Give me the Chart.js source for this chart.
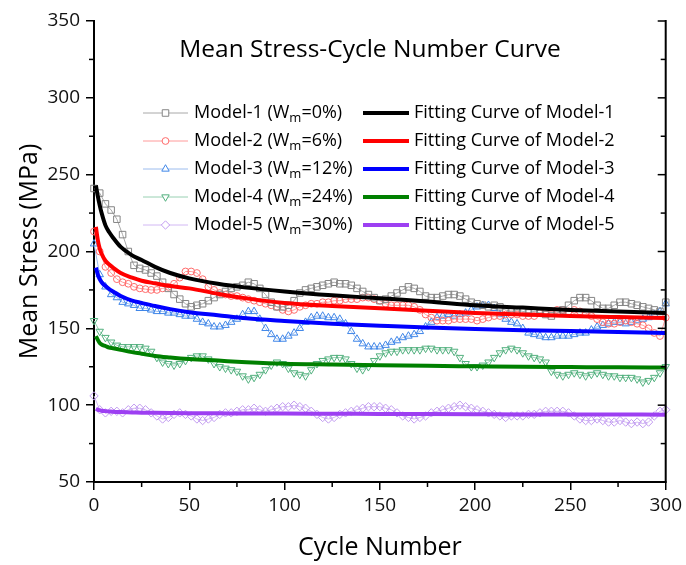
<!DOCTYPE html>
<html><head><meta charset="utf-8">
<script src="https://cdn.jsdelivr.net/npm/chart.js@4/dist/chart.umd.min.js"></script>
<style>html,body{margin:0;padding:0;background:#fff;}#wrap{width:686px;height:565px;}</style>
</head><body><div id="wrap"><canvas id="c" width="686" height="565"></canvas></div>
<script>
const cycles = [0,3,6,9,12,15,18,21,24,27,30,33,36,39,42,45,48,51,54,57,60,63,66,69,72,75,78,81,84,87,90,93,96,99,102,105,108,111,114,117,120,123,126,129,132,135,138,141,144,147,150,153,156,159,162,165,168,171,174,177,180,183,186,189,192,195,198,201,204,207,210,213,216,219,222,225,228,231,234,237,240,243,246,249,252,255,258,261,264,267,270,273,276,279,282,285,288,291,294,297,300];

const model1 = [241,238,231,227,221,211,200,191,189,188, 186,184,180,176,172,169,166,164,165,166, 168,170,172,174,176,177,178,180,179,176, 172,167,164,164,165,168,173,175,176,177, 178,179,180,179,179,178,176,174,172,170, 168,169,171,173,175,177,176,174,171,170, 170,171,172,172,171,169,167,166,165,164, 165,164,162,161,162,161,160,161,160,159, 158,160,162,165,168,170,170,168,165,163, 163,165,167,167,166,165,164,163,162,161, 167];
const model2 = [213,200,190,186,182,180,179,177,176,175.5, 175,175,176,177,179,183,187,187,186,182, 177,175,173,172,171,171,170,169,168,167, 166,165,164,162,161,162,164,165,166,166, 167,167,168,168,169,169,169,170,170,169, 168,166,165,165,165,165,164,162,159,157, 155,155,155,156,156,156,156,155,156,157, 158,158,159,159,159,158,158,158,160,161, 161,162,162,161,162,161,160,158,156,154, 153,153,154,155,154,153,152,150,147,145, 157];
const model3 = [205,185,177,172,170,167,166,165,163,163, 162,161,161,160,160,159,158,158,156,154, 153,151,151,152,154,156,159,161,161,156, 150,146,143,143,145,147,150,154,157,158, 158,157,157,156,153,148,143,140,138,138, 138,139,141,142,144,145,146,148,151,154, 157,158,159,158,159,160,162,164,165,165, 163,159,156,154,153,150,147,146,145,144, 144,145,145,145,146,147,147,149,151,152, 153,154,154,153,154,155,156,157,159,161, 166];
const model4 = [155,148,144,141,139,138,138,138,138,137, 135,131,128,127,126,127,129,131,132,132, 130,127,125,124,123,122,119,117,118,120, 123,126,128,127,124,121,120,119,123,127, 129,130,131,131,130,127,124,123,125,129, 132,134,135,135,136,136,136,136,137,137, 136,136,136,135,131,127,125,125,126,128, 131,134,136,137,136,134,132,131,130,128, 122,120,119,120,121,120,119,120,121,120, 119,119,118,118,118,117,115,116,118,121, 125];
const model5 = [106,97,95,96,96,95,97,98,98,97, 95,93,91,92,94,95,94,93,91,90, 91,92,94,95,95,96,97,97,98,97, 96,97,98,99,99,100,99,98,96,94, 92,91,92,94,95,96,97,98,99,99, 99,98,97,95,93,92,91,92,93,95, 96,97,98,99,100,99,98,97,96,95, 94,93,92,93,93,93,94,94,95,96, 96,96,96,95,93,91,90,90,91,90, 89,89,90,89,88,89,88,89,93,96, 97];

const fitCycles = [1,2,3,4,6,8,10,14,20,25,32,40,50,65,80,100,125,150,175,200,225,250,275,300];
const fit1 = [243,236,230,225,217,212.5,209,203,197.5,194.5,190,186,182.5,179,176.5,174,171.5,169.5,167.5,165,163.5,162,161,160];
const fit2 = [216,207.5,202,198.5,194,191.5,189.5,186,183,181,179.3,177.5,176,172.5,169.5,166.5,164.5,163,161.5,160,159,158,157.3,156.7];
const fit3 = [189.5,185,182,180,177.5,175.5,174,171,168,166.5,164.5,162.5,160.5,158.5,156.5,154.8,153,151.7,150.5,149.6,148.8,148.2,147.6,147];
const fit4 = [145,142.5,140.5,139.5,138.5,137.5,137,136,134.5,133.5,132,131,130,129,128,127,126.5,126,125.6,125.3,125,124.8,124.6,124.5];
const fit5 = [97.5,97,96.7,96.4,96.1,95.9,95.7,95.5,95.3,95.1,95,94.9,94.8,94.7,94.6,94.5,94.4,94.3,94.2,94.1,94,94,93.9,93.8];

const seriesLabels = ['Model-1 (Wm=0%)','Model-2 (Wm=6%)','Model-3 (Wm=12%)','Model-4 (Wm=24%)','Model-5 (Wm=30%)'];
const fitLabels = ['Fitting Curve of Model-1','Fitting Curve of Model-2','Fitting Curve of Model-3','Fitting Curve of Model-4','Fitting Curve of Model-5'];
const xTicks = [0,50,100,150,200,250,300];
const yTicks = [50,100,150,200,250,300,350];
const chartTitle = 'Mean Stress-Cycle Number Curve';
const xTitle = 'Cycle Number';
const yTitle = 'Mean Stress (MPa)';

const FONT = "'Open Sans', 'Noto Sans', sans-serif";
const markerStyles = [
  {pointStyle:'rect', radius:4.6, rotation:0, color:'#858585', line:'#a8a8a8'},
  {pointStyle:'circle', radius:3.4, rotation:0, color:'#ff6b6b', line:'#ff9a9a'},
  {pointStyle:'triangle', radius:4.3, rotation:0, color:'#3f86e8', line:'#9cbcee'},
  {pointStyle:'triangle', radius:4.3, rotation:180, color:'#52b07e', line:'#98d0b2'},
  {pointStyle:'rectRot', radius:4.2, rotation:0, color:'#c29cf0', line:'#d2b8f4'}
];
const fitColors = ['#000000','#ff0000','#0000ff','#008000','#9d3ff2'];
const seriesVals = [model1, model2, model3, model4, model5];
const fitVals = [fit1, fit2, fit3, fit4, fit5];

const datasets = [];
fitVals.forEach((vals, i) => {
  datasets.push({
    label: fitLabels[i],
    data: fitCycles.map((c, k) => ({x: c, y: vals[k]})),
    borderColor: fitColors[i], borderWidth: 4, pointRadius: 0,
    cubicInterpolationMode: 'monotone', fill: false, order: 0
  });
});
seriesVals.forEach((vals, i) => {
  const m = markerStyles[i];
  datasets.push({
    label: seriesLabels[i],
    data: cycles.map((c, k) => ({x: c, y: vals[k]})),
    borderColor: m.line, borderWidth: 1,
    pointStyle: m.pointStyle, pointRadius: m.radius, pointRotation: m.rotation,
    pointBorderColor: m.color, pointBackgroundColor: 'rgba(255,255,255,0)', pointBorderWidth: 1,
    tension: 0, fill: false, order: 1, clip: false
  });
});

const decoPlugin = {
  id: 'deco',
  afterDraw(chart) {
    const {ctx, chartArea: {left, right, top, bottom}, scales: {x, y}} = chart;
    ctx.save();
    ctx.strokeStyle = '#000';
    ctx.lineWidth = 2;
    ctx.beginPath(); ctx.moveTo(right, top - 1); ctx.lineTo(right, bottom + 1); ctx.stroke();
    ctx.lineWidth = 1.5;
    for (let i = 0; i < yTicks.length - 1; i++) {
      const mid = y.getPixelForValue((yTicks[i] + yTicks[i + 1]) / 2);
      ctx.beginPath(); ctx.moveTo(left - 5, mid); ctx.lineTo(left, mid); ctx.stroke();
      ctx.beginPath(); ctx.moveTo(right - 5, mid); ctx.lineTo(right, mid); ctx.stroke();
    }
    yTicks.forEach(v => {
      const p = y.getPixelForValue(v);
      ctx.beginPath(); ctx.moveTo(right - 8, p); ctx.lineTo(right, p); ctx.stroke();
    });
    for (let i = 0; i < xTicks.length - 1; i++) {
      const mid = x.getPixelForValue((xTicks[i] + xTicks[i + 1]) / 2);
      ctx.beginPath(); ctx.moveTo(mid, bottom); ctx.lineTo(mid, bottom + 5); ctx.stroke();
    }
    ctx.fillStyle = '#000';
    ctx.font = '24.5px ' + FONT;
    ctx.textAlign = 'center'; ctx.textBaseline = 'middle';
    ctx.fillText(chartTitle, 370, 50);
    const rows = [113, 141, 169, 197, 225];
    const fs = 18;
    ctx.textAlign = 'left';
    const drawSub = (text, tx, ty) => {
      const idx = text.indexOf('Wm');
      if (idx < 0) { ctx.font = fs + 'px ' + FONT; ctx.fillText(text, tx, ty); return; }
      const a = text.slice(0, idx + 1), sub = 'm', b = text.slice(idx + 2);
      ctx.font = fs + 'px ' + FONT; ctx.fillText(a, tx, ty);
      let cx = tx + ctx.measureText(a).width;
      ctx.font = Math.round(fs * 0.7) + 'px ' + FONT; ctx.fillText(sub, cx, ty + 5);
      cx += ctx.measureText(sub).width;
      ctx.font = fs + 'px ' + FONT; ctx.fillText(b, cx, ty);
    };
    rows.forEach((ry, i) => {
      const m = markerStyles[i];
      ctx.strokeStyle = m.line; ctx.lineWidth = 1;
      ctx.beginPath(); ctx.moveTo(143, ry); ctx.lineTo(188, ry); ctx.stroke();
      ctx.strokeStyle = m.color; ctx.fillStyle = '#fff';
      Chart.helpers.drawPoint(ctx, {pointStyle: m.pointStyle, radius: m.radius, rotation: m.rotation, borderWidth: 1}, 165.5, ry);
      ctx.fillStyle = '#000';
      drawSub(seriesLabels[i], 194, ry);
      ctx.strokeStyle = fitColors[i]; ctx.lineWidth = 4;
      ctx.beginPath(); ctx.moveTo(363, ry); ctx.lineTo(409, ry); ctx.stroke();
      ctx.fillStyle = '#000';
      ctx.font = fs + 'px ' + FONT;
      ctx.fillText(fitLabels[i], 414, ry);
    });
    ctx.restore();
  }
};

new Chart(document.getElementById('c'), {
  type: 'line',
  data: {datasets},
  options: {
    responsive: false, animation: false, devicePixelRatio: 1,
    layout: {padding: {left: 0, right: 18, top: 21, bottom: 0}},
    plugins: {legend: {display: false}, tooltip: {enabled: false}, title: {display: false}},
    scales: {
      x: {
        type: 'linear', min: 0, max: 300,
        afterBuildTicks: s => { s.ticks = xTicks.map(v => ({value: v})); },
        afterFit: s => { s.height = 83; },
        border: {display: true, color: '#000', width: 2},
        grid: {display: true, drawOnChartArea: false, drawTicks: true, tickLength: 8, color: '#000', lineWidth: 1.5},
        ticks: {color: '#111', font: {size: 19, family: FONT}, padding: 4, maxRotation: 0},
        title: {display: true, text: xTitle, color: '#000', font: {size: 25, family: FONT}, padding: {top: 0, bottom: 2}}
      },
      y: {
        type: 'linear', min: 50, max: 350,
        afterBuildTicks: s => { s.ticks = yTicks.map(v => ({value: v})); },
        afterFit: s => { s.width = 94; },
        border: {display: true, color: '#000', width: 2},
        grid: {display: true, drawOnChartArea: false, drawTicks: true, tickLength: 8, color: '#000', lineWidth: 1.5},
        ticks: {color: '#111', font: {size: 19, family: FONT}, padding: 6},
        title: {display: true, text: yTitle, color: '#000', font: {size: 25, family: FONT}, padding: {top: 15, bottom: 0}}
      }
    }
  },
  plugins: [decoPlugin]
});
</script></body></html>
